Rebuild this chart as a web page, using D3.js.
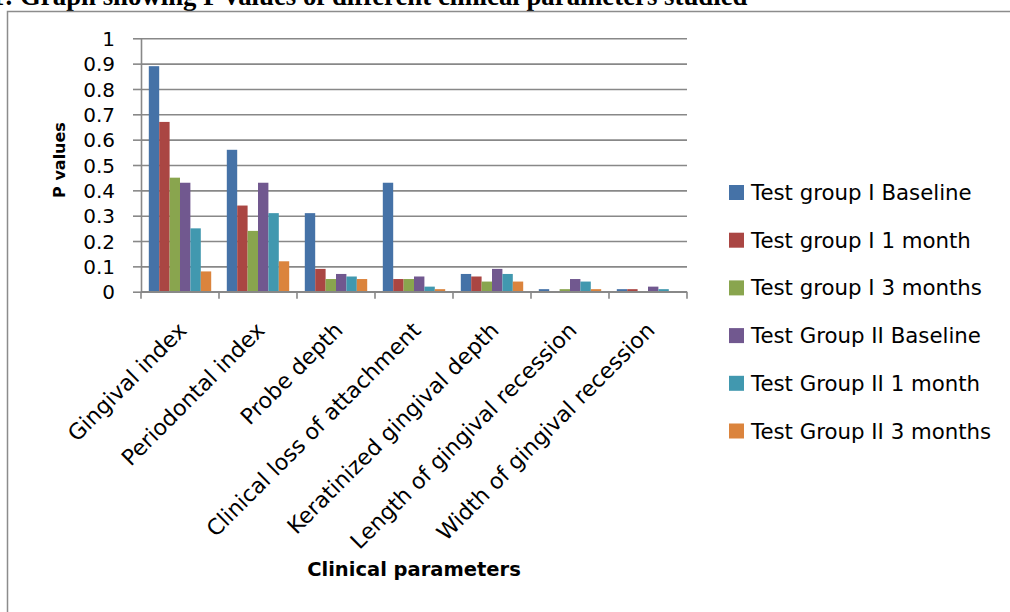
<!DOCTYPE html>
<html>
<head>
<meta charset="utf-8">
<script src="https://cdn.jsdelivr.net/npm/d3@7"></script>
<style>
  body { margin: 0; background: #fff; }
  svg { display: block; }
  .y-axis .domain, .y-axis line, .x-axis line, .x-axis .domain { stroke: #888; stroke-width: 1.6px; }
  .grid line { stroke: #888; stroke-width: 1.6px; }
  .grid .domain { display: none; }
</style>
</head>
<body>
<div id="wrapper"></div>
<script>
// data
const categories = [
  "Gingival index", "Periodontal index", "Probe depth", "Clinical loss of attachment",
  "Keratinized gingival depth", "Length of gingival recession", "Width of gingival recession"
]
const seriesNames = [
  "Test group I Baseline", "Test group I 1 month", "Test group I 3 months",
  "Test Group II Baseline", "Test Group II 1 month", "Test Group II 3 months"
]
const groupIBaseline = [0.89, 0.56, 0.31, 0.43, 0.07, 0.01, 0.01]
const groupI1Month = [0.67, 0.34, 0.09, 0.05, 0.06, 0, 0.01]
const groupI3Months = [0.45, 0.24, 0.05, 0.05, 0.04, 0.01, 0]
const groupIIBaseline = [0.43, 0.43, 0.07, 0.06, 0.09, 0.05, 0.02]
const groupII1Month = [0.25, 0.31, 0.06, 0.02, 0.07, 0.04, 0.01]
const groupII3Months = [0.08, 0.12, 0.05, 0.01, 0.04, 0.01, 0]
const yTicks = [0, 0.1, 0.2, 0.3, 0.4, 0.5, 0.6, 0.7, 0.8, 0.9, 1]
const colors = ["#4572A7", "#AA4643", "#89A54E", "#71588F", "#4198AF", "#DB843D"]

function drawBarChart() {
  const seriesValues = [groupIBaseline, groupI1Month, groupI3Months, groupIIBaseline, groupII1Month, groupII3Months]
  const dataset = categories.map((c, i) => ({
    category: c,
    values: seriesNames.map((s, j) => ({ series: s, value: seriesValues[j][i] }))
  }))

  // 1. dimensions
  const dimensions = {
    width: 1010,
    height: 612,
    plot: { left: 141, right: 687, top: 38.3, bottom: 291.7 },
  }
  const font = "'DejaVu Sans', sans-serif"

  // 2. canvas
  const svg = d3.select("#wrapper").append("svg")
    .attr("width", dimensions.width)
    .attr("height", dimensions.height)

  // caption, cut off at the top of the picture like in the source
  svg.append("text")
    .attr("x", -9)
    .attr("y", 4.5)
    .style("font-family", "'Liberation Serif', 'Times New Roman', serif")
    .style("font-weight", "bold")
    .style("font-size", "26.8px")
    .text("1: Graph showing P values of different clinical parameters studied")

  // chart frame (runs off right and bottom)
  svg.append("path")
    .attr("d", "M7.5,1100 V11.5 H1100")
    .attr("fill", "none")
    .attr("stroke", "#8c8c8c")
    .attr("stroke-width", 1.5)

  // 3. scales
  const xScale = d3.scaleBand()
    .domain(categories)
    .range([dimensions.plot.left, dimensions.plot.right])
  const bw = xScale.bandwidth()
  const xSeries = d3.scaleBand()
    .domain(seriesNames)
    .range([bw * 0.1, bw * 0.9])
  const yScale = d3.scaleLinear()
    .domain([0, 1])
    .range([dimensions.plot.bottom, dimensions.plot.top])
  const colorScale = d3.scaleOrdinal()
    .domain(seriesNames)
    .range(colors)

  // 4. gridlines
  svg.append("g")
    .attr("class", "grid")
    .attr("transform", `translate(${dimensions.plot.left},0)`)
    .call(d3.axisLeft(yScale).tickValues(yTicks).tickSize(-(dimensions.plot.right - dimensions.plot.left)).tickFormat(""))

  // 5. bars
  const groups = svg.append("g").selectAll("g")
    .data(dataset)
    .join("g")
    .attr("transform", d => `translate(${xScale(d.category)},0)`)
  groups.selectAll("rect")
    .data(d => d.values)
    .join("rect")
    .attr("x", d => xSeries(d.series))
    .attr("width", xSeries.bandwidth())
    .attr("y", d => yScale(d.value))
    .attr("height", d => yScale(0) - yScale(d.value))
    .attr("fill", d => colorScale(d.series))

  // 6. axes
  const yAxis = svg.append("g")
    .attr("class", "y-axis")
    .attr("transform", `translate(${dimensions.plot.left},0)`)
    .call(d3.axisLeft(yScale).tickValues(yTicks).tickSizeInner(8).tickSizeOuter(0).tickPadding(18).tickFormat(d3.format("")))
  yAxis.selectAll("text")
    .attr("dy", "0.36em")
    .style("font-family", font)
    .style("font-size", "20px")
    .attr("fill", "#000")

  const xAxis = svg.append("g")
    .attr("class", "x-axis")
  xAxis.append("line")
    .attr("x1", dimensions.plot.left).attr("x2", dimensions.plot.right)
    .attr("y1", yScale(0)).attr("y2", yScale(0))
  xAxis.selectAll(".tick-mark")
    .data(categories.map(c => xScale(c)).concat([dimensions.plot.right]))
    .join("line")
    .attr("class", "tick-mark")
    .attr("x1", d => d).attr("x2", d => d)
    .attr("y1", yScale(0)).attr("y2", yScale(0) + 7)

  xAxis.selectAll(".x-label")
    .data(categories)
    .join("text")
    .attr("class", "x-label")
    .attr("transform", d => `translate(${xScale(d) + bw / 2 + 8},${yScale(0) + 40}) rotate(-45)`)
    .attr("text-anchor", "end")
    .style("font-family", font)
    .style("font-size", "22px")
    .text(d => d)

  // axis titles
  svg.append("text")
    .attr("transform", `translate(65,160) rotate(-90)`)
    .attr("text-anchor", "middle")
    .style("font-family", font)
    .style("font-weight", "bold")
    .style("font-size", "16px")
    .text("P values")

  svg.append("text")
    .attr("x", (dimensions.plot.left + dimensions.plot.right) / 2)
    .attr("y", 576)
    .attr("text-anchor", "middle")
    .style("font-family", font)
    .style("font-weight", "bold")
    .style("font-size", "19.5px")
    .text("Clinical parameters")

  // 7. legend
  const legend = svg.append("g")
    .attr("transform", "translate(729,185)")
  const items = legend.selectAll("g")
    .data(seriesNames)
    .join("g")
    .attr("transform", (d, i) => `translate(0,${i * 47.7})`)
  items.append("rect")
    .attr("width", 15)
    .attr("height", 15)
    .attr("fill", d => colorScale(d))
  items.append("text")
    .attr("x", 22)
    .attr("y", 15)
    .style("font-family", font)
    .style("font-size", "21.3px")
    .text(d => d)
}
drawBarChart()
</script>
</body>
</html>
